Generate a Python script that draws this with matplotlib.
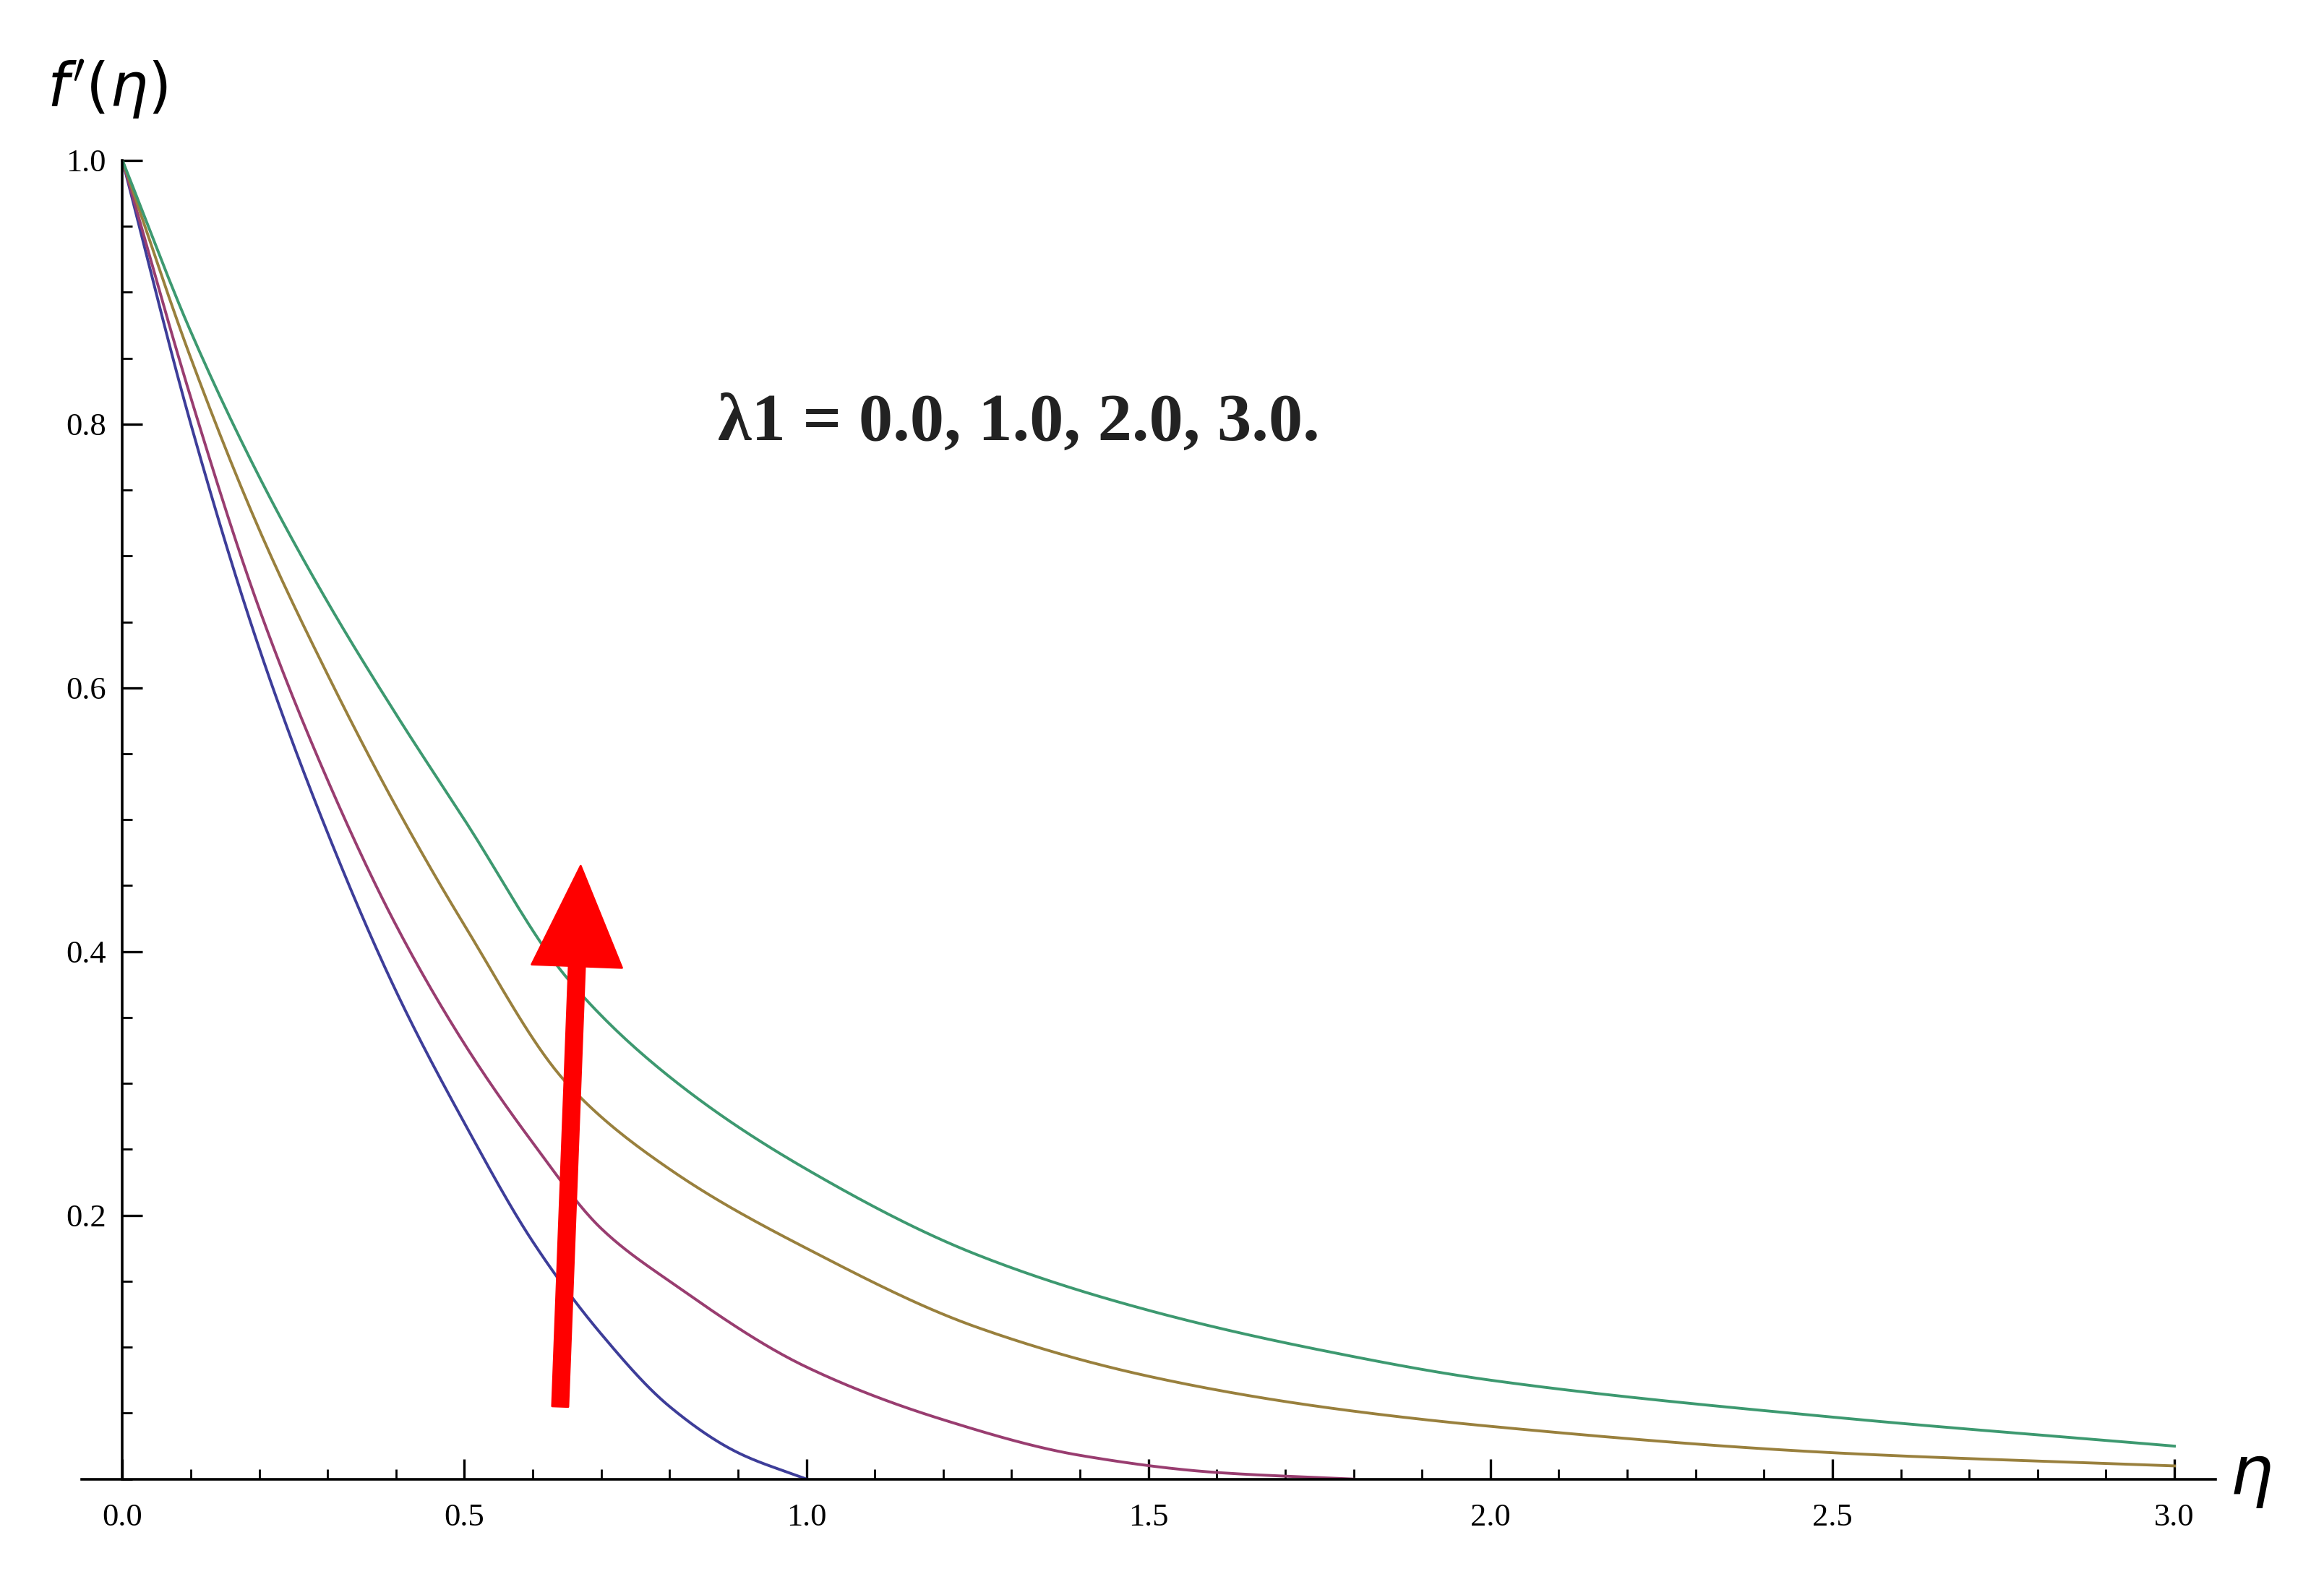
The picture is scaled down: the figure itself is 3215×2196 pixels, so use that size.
import numpy as np
import matplotlib.pyplot as plt
from matplotlib.ticker import MultipleLocator

eta_blue = [0, 0.1, 0.2, 0.3, 0.4, 0.5, 0.6, 0.7, 0.8, 0.9, 1.0]
f_blue = [1, 0.80, 0.63, 0.49, 0.37, 0.27, 0.18, 0.11, 0.055, 0.02, 0.0]
eta_purple = [0, 0.1, 0.2, 0.3, 0.4, 0.5, 0.6, 0.7, 0.8, 1.0, 1.2, 1.4, 1.6, 1.8]
f_purple = [1, 0.82, 0.66, 0.53, 0.42, 0.33, 0.255, 0.19, 0.15, 0.085, 0.045, 0.018, 0.005, 0.0]
eta_long = [0, 0.1, 0.2, 0.3, 0.4, 0.5, 0.65, 0.8, 1.0, 1.25, 1.5, 1.75, 2.0, 2.5, 3.0]
f_yellow = [1, 0.85, 0.72, 0.61, 0.51, 0.42, 0.30, 0.235, 0.175, 0.115, 0.078, 0.055, 0.04, 0.02, 0.01]
f_green = [1, 0.87, 0.76, 0.665, 0.58, 0.50, 0.38, 0.305, 0.235, 0.17, 0.128, 0.098, 0.075, 0.047, 0.025]

colors = [(0.24, 0.24, 0.6), (0.6, 0.24, 0.44), (0.6, 0.5, 0.24), (0.24, 0.6, 0.44)]


def pchip(x, y, n=400):
    # monotone cubic (Fritsch-Carlson) so the curves look smooth
    x = np.asarray(x, float)
    y = np.asarray(y, float)
    h = np.diff(x)
    d = np.diff(y) / h
    m = np.zeros_like(y)
    m[0], m[-1] = d[0], d[-1]
    for i in range(1, len(x) - 1):
        if d[i - 1] * d[i] > 0:
            w1 = 2 * h[i] + h[i - 1]
            w2 = h[i] + 2 * h[i - 1]
            m[i] = (w1 + w2) / (w1 / d[i - 1] + w2 / d[i])
    xs = np.linspace(x[0], x[-1], n)
    k = np.clip(np.searchsorted(x, xs) - 1, 0, len(x) - 2)
    t = (xs - x[k]) / h[k]
    h00 = 2 * t**3 - 3 * t**2 + 1
    h10 = t**3 - 2 * t**2 + t
    h01 = -2 * t**3 + 3 * t**2
    h11 = t**3 - t**2
    ys = h00 * y[k] + h10 * h[k] * m[k] + h01 * y[k + 1] + h11 * h[k] * m[k + 1]
    return xs, ys


plt.rcParams['font.family'] = ['Liberation Serif', 'DejaVu Serif']
fig = plt.figure(figsize=(16.08, 10.98), dpi=200)
ax = fig.add_axes([0.035, 0.068, 0.918, 0.831])

for (x, y), c in zip([(eta_blue, f_blue), (eta_purple, f_purple),
                      (eta_long, f_yellow), (eta_long, f_green)], colors):
    xs, ys = pchip(x, y)
    ax.plot(xs, ys, color=c, lw=1.4)

ax.set_xlim(-0.06, 3.06)
ax.set_ylim(0, 1.0)
ax.spines['top'].set_visible(False)
ax.spines['right'].set_visible(False)
ax.spines['left'].set_position(('data', 0))
ax.spines['left'].set_bounds(0, 1.0)
ax.spines['left'].set_linewidth(1.3)
ax.spines['bottom'].set_linewidth(1.3)
ax.xaxis.set_minor_locator(MultipleLocator(0.1))
ax.yaxis.set_minor_locator(MultipleLocator(0.05))
ax.set_xticks([0, 0.5, 1.0, 1.5, 2.0, 2.5, 3.0])
ax.set_xticklabels(['0.0', '0.5', '1.0', '1.5', '2.0', '2.5', '3.0'])
ax.set_yticks([0.2, 0.4, 0.6, 0.8, 1.0])
ax.set_yticklabels(['0.2', '0.4', '0.6', '0.8', '1.0'])
ax.tick_params(which='major', direction='in', length=10, width=1.2, labelsize=16)
ax.tick_params(which='minor', direction='in', length=5, width=1)
ax.tick_params(axis='x', pad=12)
ax.tick_params(axis='y', pad=8)

ax.annotate('', xy=(0.67, 0.465), xytext=(0.64, 0.055),
            arrowprops=dict(facecolor='red', edgecolor='red', width=8, headwidth=45, headlength=50))
ax.text(0.87, 0.8, 'λ1 = 0.0, 1.0, 2.0, 3.0.', fontsize=34, fontweight='bold',
        va='center', color='#222222')
ax.text(-0.11, 1.03, "$f'(\\eta)$", fontsize=30, va='bottom')
ax.text(3.08, 0.0, '$\\eta$', fontsize=34, va='center')

fig.savefig('out.png', dpi=200)
